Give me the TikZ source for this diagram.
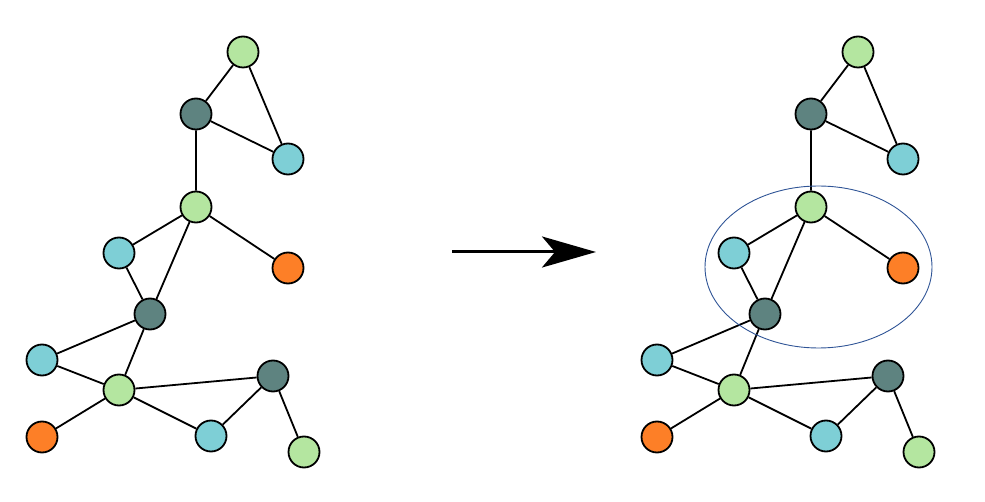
\documentclass[tikz,border=0pt]{standalone}
\usetikzlibrary{arrows.meta}
\definecolor{cgreen}{RGB}{180,230,160}
\definecolor{cdark}{RGB}{94,131,128}
\definecolor{ccyan}{RGB}{126,207,214}
\definecolor{corange}{RGB}{253,127,39}
\definecolor{cblue}{RGB}{47,84,150}
\tikzset{
  vtx/.style={circle,draw=black,line width=1.8pt,minimum size=31pt,inner sep=0pt},
  gn/.style={vtx,fill=cgreen},
  dk/.style={vtx,fill=cdark},
  cy/.style={vtx,fill=ccyan},
  og/.style={vtx,fill=corange},
  edge/.style={line width=1.8pt,black},
}
\begin{document}
\begin{tikzpicture}[x=1pt,y=-1pt]
\useasboundingbox (0,0) rectangle (985,502);
\foreach \p/\dx in {l/0,r/615}{
\begin{scope}[xshift=\dx pt]
\node[gn] (A\p) at (243,52) {};
\node[dk] (B\p) at (196,114) {};
\node[cy] (C\p) at (288,159) {};
\node[gn] (D\p) at (196,207) {};
\node[cy] (E\p) at (119,253) {};
\node[og] (F\p) at (288,268) {};
\node[dk] (G\p) at (150,314) {};
\node[cy] (H\p) at (42,360) {};
\node[gn] (I\p) at (119,390) {};
\node[dk] (J\p) at (273,376) {};
\node[og] (K\p) at (42,437) {};
\node[cy] (L\p) at (211,436) {};
\node[gn] (M\p) at (304,452) {};
\draw[edge] (A\p)--(B\p) (A\p)--(C\p) (B\p)--(C\p) (B\p)--(D\p)
  (D\p)--(E\p) (D\p)--(F\p) (D\p)--(G\p) (E\p)--(G\p)
  (G\p)--(H\p) (G\p)--(I\p) (H\p)--(I\p) (I\p)--(K\p)
  (I\p)--(J\p) (I\p)--(L\p) (L\p)--(J\p) (J\p)--(M\p);
\end{scope}}
\draw[cblue,line width=0.9pt] (818.5,267) ellipse [x radius=113.5pt, y radius=81pt];
\coordinate (s) at (452,252);
\coordinate (t) at (596,252);
\draw[line width=3pt,-{Stealth[length=54pt,width=31pt,inset=13pt]}] (s)--(t);
\end{tikzpicture}
\end{document}
